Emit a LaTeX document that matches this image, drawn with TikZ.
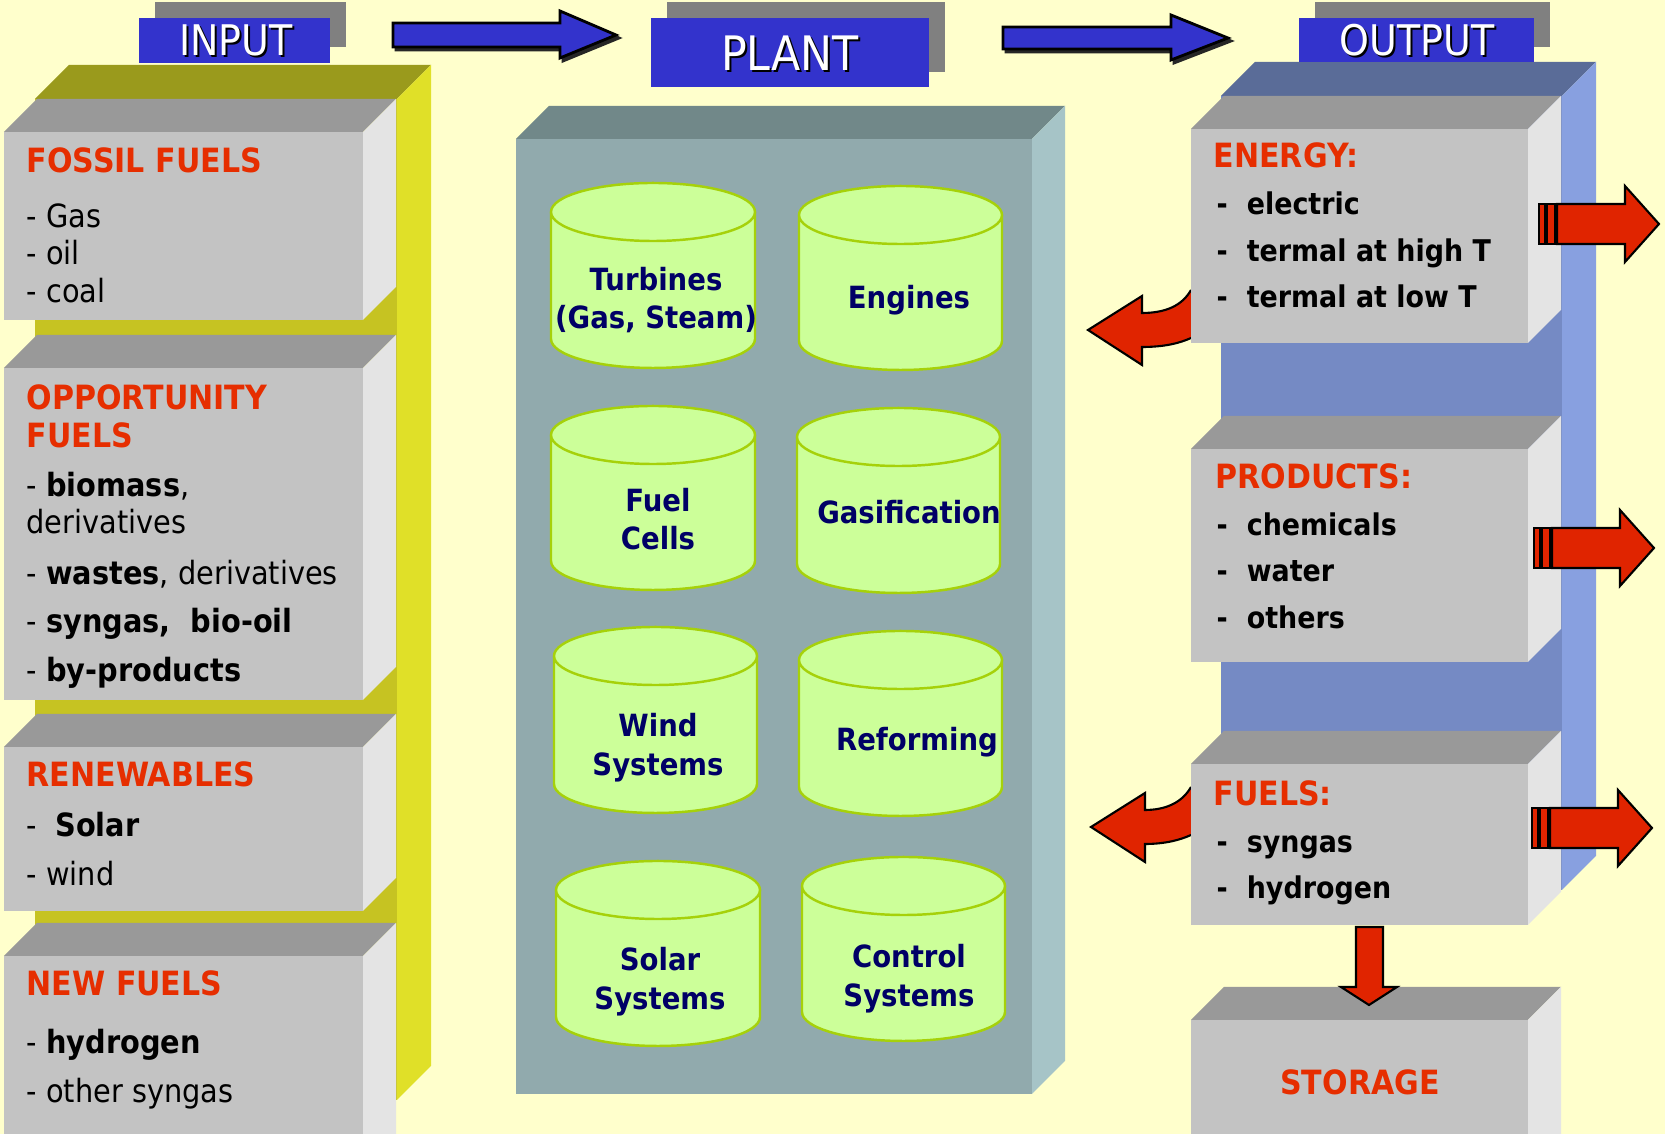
\documentclass[tikz,border=0pt]{standalone}
\usepackage{fontspec}
\setmainfont[FakeStretch=0.9]{DejaVu Sans}
\definecolor{bg}{HTML}{FFFFCC}
\definecolor{gfront}{HTML}{C3C3C3}
\definecolor{gtop}{HTML}{999999}
\definecolor{gside}{HTML}{E4E4E4}
\definecolor{ytop}{HTML}{9A9A1C}
\definecolor{yfront}{HTML}{C6C322}
\definecolor{yside}{HTML}{E0E028}
\definecolor{btop}{HTML}{5A6C98}
\definecolor{bfront}{HTML}{758AC4}
\definecolor{bside}{HTML}{88A0E0}
\definecolor{ptop}{HTML}{718889}
\definecolor{pfront}{HTML}{91AAAD}
\definecolor{pside}{HTML}{A6C4C7}
\definecolor{hblue}{HTML}{3333CC}
\definecolor{hgray}{HTML}{808080}
\definecolor{cylfill}{HTML}{CCFF99}
\definecolor{cylline}{HTML}{A6D10A}
\definecolor{navy}{HTML}{000066}
\definecolor{tred}{HTML}{E62E00}
\definecolor{ared}{HTML}{E02400}
\newcommand\prism[8]{%
  \fill[#6] (#1,#3) -- (#1+#5,#3-#5) -- (#2+#5,#3-#5) -- (#2,#3) -- cycle;
  \fill[#8] (#2,#3) -- (#2+#5,#3-#5) -- (#2+#5,#4-#5) -- (#2,#4) -- cycle;
  \fill[#7] (#1,#3) rectangle (#2,#4);
}
\newcommand\cyl[4]{%
  \pgfmathsetmacro\cylcx{(#1+#2)/2}%
  \pgfmathsetmacro\cylrx{(#2-#1)/2}%
  \pgfmathsetmacro\cylty{#3+29}%
  \pgfmathsetmacro\cylby{#4-29}%
  \filldraw[cylsty] (#1,\cylty) -- (#1,\cylby) .. controls (#1,\cylby+16) and (\cylcx-0.5523*\cylrx,#4) .. (\cylcx,#4) .. controls (\cylcx+0.5523*\cylrx,#4) and (#2,\cylby+16) .. (#2,\cylby) -- (#2,\cylty);
  \filldraw[cylsty] (\cylcx,\cylty) ellipse [x radius={\cylrx*0.01cm}, y radius=0.29cm];
}
\newcommand\rarr[2]{%
  \filldraw[redarr] (#1,#2-20) rectangle (#1+6,#2+20);
  \filldraw[redarr] (#1+8,#2-20) rectangle (#1+16,#2+20);
  \filldraw[redarr] (#1+18,#2-20) -- (#1+86,#2-20) -- (#1+86,#2-38) -- (#1+120,#2) -- (#1+86,#2+38) -- (#1+86,#2+20) -- (#1+18,#2+20) -- cycle;
}
\newcommand\carr[2]{%
  \filldraw[redarr] (1191,#2-40) .. controls (1182,#2-24) and (1165,#2-17) .. (#1+54,#2-17) -- (#1+54,#2-34) -- (#1,#2) -- (#1+54,#2+35) -- (#1+54,#2+17) .. controls (1165,#2+17) and (1180,#2+13) .. (1191,#2+8);
}
\newcommand\dsh{-\hspace{5.4pt}}
\tikzset{
  ttl/.style={text=tred, font=\fontsize{9.5}{12}\selectfont\bfseries, anchor=base west, inner sep=0pt},
  itm/.style={text=black, font=\fontsize{9.1}{11}\selectfont, anchor=base west, inner sep=0pt},
  ritm/.style={text=black, font=\fontsize{8.5}{10}\selectfont\bfseries, anchor=base west, inner sep=0pt},
  cyltxt/.style={text=navy, font=\fontsize{8.7}{11}\selectfont\bfseries, align=center, inner sep=0pt},
  hdr/.style={text=white, inner sep=0pt},
  hdrs/.style={text=black, inner sep=0pt},
  cylsty/.style={fill=cylfill, draw=cylline, line width=0.7pt},
  redarr/.style={fill=ared, draw=black, line width=0.6pt, line join=miter},
  bluearr/.style={fill=hblue, draw=black, line width=0.8pt, line join=miter},
  bluesh/.style={fill=black!85, draw=black!85, line width=0.8pt, line join=miter},
}
\begin{document}
\begin{tikzpicture}[x=0.01cm, y=-0.01cm]
\useasboundingbox (0,0) rectangle (1665,1134);
\clip (0,0) rectangle (1665,1134);
\fill[bg] (0,0) rectangle (1665,1134);

% input column
\prism{35}{397}{99}{1100}{34}{ytop}{yfront}{yside}
\prism{4}{363}{132}{320}{33}{gtop}{gfront}{gside}
\prism{4}{363}{368}{700}{33}{gtop}{gfront}{gside}
\prism{4}{363}{747}{911}{33}{gtop}{gfront}{gside}
\prism{4}{363}{956}{1170}{33}{gtop}{gfront}{gside}

% plant
\prism{516}{1032}{139}{1094}{33}{ptop}{pfront}{pside}
\cyl{551}{755}{183}{368}
\cyl{799}{1002}{186}{370}
\cyl{551}{755}{406}{590}
\cyl{797}{1000}{408}{593}
\cyl{554}{757}{627}{813}
\cyl{799}{1002}{631}{816}
\cyl{556}{760}{861}{1046}
\cyl{802}{1005}{857}{1041}

% output column
\prism{1221}{1562}{96}{890}{34}{btop}{bfront}{bside}
\carr{1088}{330}
\carr{1091}{827}
\prism{1191}{1528}{129}{343}{33}{gtop}{gfront}{gside}
\prism{1191}{1528}{449}{662}{33}{gtop}{gfront}{gside}
\prism{1191}{1528}{764}{925}{33}{gtop}{gfront}{gside}
\prism{1191}{1528}{1020}{1170}{33}{gtop}{gfront}{gside}
\rarr{1539}{224}
\rarr{1534}{548}
\rarr{1532}{828}
\filldraw[redarr] (1356,927) -- (1383,927) -- (1383,987) -- (1397,987) -- (1369,1005) -- (1341,987) -- (1356,987) -- cycle;

% headers
\fill[hgray] (155,2) rectangle (346,47);
\fill[hblue] (139,18) rectangle (330,63);
\fill[hgray] (667,2) rectangle (945,72);
\fill[hblue] (651,18) rectangle (929,87);
\fill[hgray] (1315,2) rectangle (1550,47);
\fill[hblue] (1299,18) rectangle (1534,62);
\node[hdrs, font=\fontsize{12}{14}\selectfont] (inputs) at (238,42) {INPUT};
\node[hdr, font=\fontsize{12}{14}\selectfont] (input) at (236,40) {INPUT};
\node[hdrs, font=\fontsize{13.5}{16}\selectfont] (plants) at (792,55) {PLANT};
\node[hdr, font=\fontsize{13.5}{16}\selectfont] (plant) at (790,53) {PLANT};
\node[hdrs, font=\fontsize{12}{14}\selectfont] (outputs) at (1419,42) {OUTPUT};
\node[hdr, font=\fontsize{12}{14}\selectfont] (output) at (1417,40) {OUTPUT};
\filldraw[bluesh] (396,26) -- (563,26) -- (563,14) -- (619,38) -- (563,61) -- (563,50) -- (396,50) -- cycle;
\filldraw[bluearr] (393,23) -- (560,23) -- (560,11) -- (616,35) -- (560,58) -- (560,47) -- (393,47) -- cycle;
\filldraw[bluesh] (1006,30) -- (1174,30) -- (1174,18) -- (1231,41) -- (1174,63) -- (1174,52) -- (1006,52) -- cycle;
\filldraw[bluearr] (1003,27) -- (1171,27) -- (1171,15) -- (1228,38) -- (1171,60) -- (1171,49) -- (1003,49) -- cycle;

% left texts
\node[ttl] (t1) at (26,173) {FOSSIL FUELS};
\node[itm] (t1a) at (26,228) {- Gas};
\node[itm] (t1b) at (26,265) {- oil};
\node[itm] (t1c) at (26,303) {- coal};
\node[ttl] (t2) at (26,410) {OPPORTUNITY};
\node[ttl] (t2x) at (26,448) {FUELS};
\node[itm] (t2a) at (26,497) {- \textbf{biomass},};
\node[itm] (t2b) at (26,534) {derivatives};
\node[itm] (t2c) at (26,585) {- \textbf{wastes}, derivatives};
\node[itm] (t2d) at (26,633) {- \textbf{syngas,\ \ bio-oil}};
\node[itm] (t2e) at (26,682) {- \textbf{by-products}};
\node[ttl] (t3) at (26,787) {RENEWABLES};
\node[itm] (t3a) at (26,837) {-\ \ \textbf{Solar}};
\node[itm] (t3b) at (26,886) {- wind};
\node[ttl] (t4) at (26,996) {NEW FUELS};
\node[itm] (t4a) at (26,1054) {- \textbf{hydrogen}};
\node[itm] (t4b) at (26,1103) {- other syngas};

% cylinder texts
\node[cyltxt] (c1) at (656,300) {Turbines\\(Gas, Steam)};
\node[cyltxt] (c2) at (909,300) {Engines};
\node[cyltxt] (c3) at (658,519) {Fuel\\Cells};
\node[cyltxt] (c4) at (909,512) {Gasification};
\node[cyltxt] (c5) at (658,748) {Wind\\Systems};
\node[cyltxt] (c6) at (917,742) {Reforming};
\node[cyltxt] (c7) at (660,982) {Solar\\Systems};
\node[cyltxt] (c8) at (909,979) {Control\\Systems};

% right texts
\node[ttl] (o1) at (1213,168) {ENERGY:};
\node[ritm] (o1a) at (1216,215) {\dsh electric};
\node[ritm] (o1b) at (1216,262) {\dsh termal at high T};
\node[ritm] (o1c) at (1216,308) {\dsh termal at low T};
\node[ttl] (o2) at (1215,489) {PRODUCTS:};
\node[ritm] (o2a) at (1216,536) {\dsh chemicals};
\node[ritm] (o2b) at (1216,582) {\dsh water};
\node[ritm] (o2c) at (1216,629) {\dsh others};
\node[ttl] (o3) at (1213,806) {FUELS:};
\node[ritm] (o3a) at (1216,853) {\dsh syngas};
\node[ritm] (o3b) at (1216,899) {\dsh hydrogen};
\node[ttl, anchor=base] (o4) at (1360,1095) {STORAGE};
\end{tikzpicture}
\end{document}
